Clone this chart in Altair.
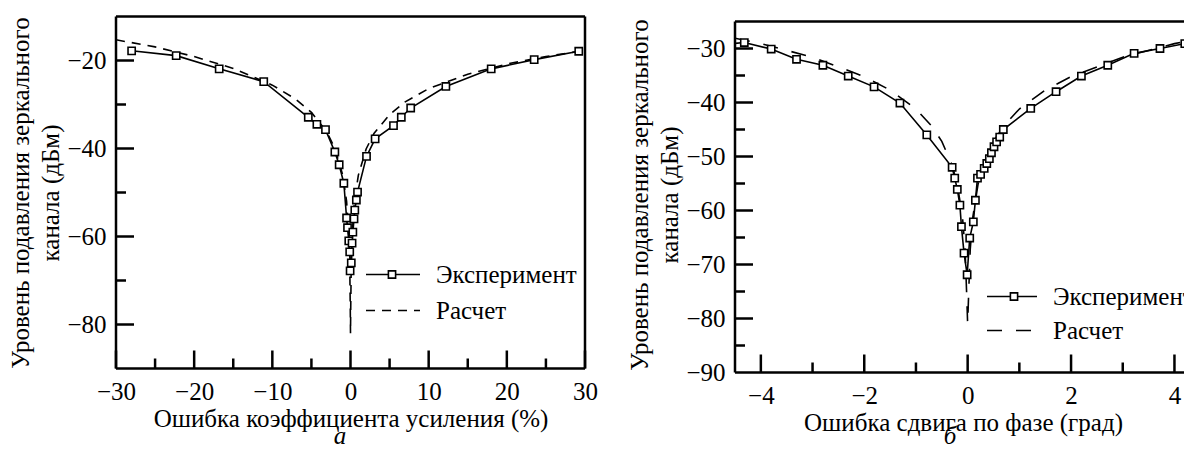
import altair as alt
import pandas as pd

# ---------------- data ----------------
series_names = ["Эксперимент", "Расчет"]

# panel а : gain error (%)
exp_a_x = [-28.0, -22.3, -16.8, -11.1, -5.4, -4.3, -3.2, -2.0, -1.45, -0.85,
           -0.5, -0.38, -0.22, -0.1, -0.05, 0.1, 0.2, 0.3, 0.45, 0.55,
           0.75, 0.9, 2.05, 3.15, 5.5, 6.5, 7.7, 12.2, 18.0, 23.5, 29.2]
exp_a_y = [-17.8, -18.9, -21.9, -24.8, -32.9, -34.5, -35.7, -40.8, -43.7, -47.9,
           -55.8, -58.0, -61.0, -63.5, -67.8, -66.0, -61.5, -59.0, -56.0, -54.0,
           -51.7, -49.9, -41.8, -37.8, -34.8, -32.9, -30.8, -25.9, -21.9, -19.8, -17.9]
calc_a_x = [-30, -25, -20, -15, -10, -7, -5, -3, -2, -1, -0.5, -0.2, -0.1, -0.03, 0,
            0.03, 0.1, 0.2, 0.5, 1, 2, 3, 5, 7, 10, 15, 20, 25, 30]
calc_a_y = [-15.3, -16.9, -19.1, -21.8, -25.6, -28.8, -31.8, -36.3, -40.0, -46.0,
            -52.0, -60.0, -66.0, -76.0, -82.0, -76.0, -66.0, -60.0, -52.0, -46.1,
            -40.1, -36.6, -32.3, -29.4, -26.4, -23.1, -20.8, -19.1, -17.7]

# panel б : phase error (deg)
exp_b_x = [-4.7, -4.32, -3.8, -3.31, -2.8, -2.31, -1.81, -1.31, -0.79, -0.3,
           -0.25, -0.2, -0.15, -0.12, -0.07, -0.01, 0.04, 0.11, 0.15, 0.19,
           0.25, 0.32, 0.37, 0.42, 0.46, 0.51, 0.56, 0.62, 0.69, 1.22,
           1.71, 2.2, 2.71, 3.22, 3.72, 4.2, 4.7]
exp_b_y = [-29.2, -28.9, -30.1, -32.0, -33.1, -35.1, -37.1, -40.1, -46.0, -52.0,
           -54.0, -56.1, -59.0, -63.0, -67.9, -71.9, -65.1, -62.1, -58.1, -54.0,
           -53.3, -52.2, -51.3, -50.4, -49.3, -48.2, -47.3, -46.4, -45.0, -41.1,
           -38.0, -35.1, -33.1, -30.9, -30.0, -29.1, -28.5]
calc_b_x = [-4.5, -4, -3, -2, -1.5, -1, -0.7, -0.5, -0.3, -0.2, -0.1, -0.05, -0.02, 0,
            0.02, 0.05, 0.1, 0.2, 0.3, 0.5, 0.7, 1, 1.5, 2, 3, 4, 4.5]
calc_b_y = [-28.1, -29.1, -31.6, -35.2, -37.7, -41.2, -44.3, -47.2, -51.6, -55.2,
            -61.2, -67.2, -75.2, -81.0, -75.2, -67.2, -61.2, -55.2, -51.6, -47.2,
            -44.3, -41.2, -37.7, -35.2, -31.6, -29.1, -28.1]

# axis ticks / labels
a_xlabels = [-30, -20, -10, 0, 10, 20, 30]
a_xminor = [-25, -15, -5, 5, 15, 25]
a_ylabels = [-80, -60, -40, -20]
a_yminor = [-70, -50, -30]
b_xlabels = [-4, -2, 0, 2, 4]
b_xminor = [-3, -1, 1, 3]
b_ylabels = [-90, -80, -70, -60, -50, -40, -30]
b_ymajor = [-80, -70, -60, -50, -40, -30]
b_yminor = [-85, -75, -65, -55, -45, -35]

ytitle = ["Уровень подавления зеркального", "канала (дБм)"]
a_xtitle = "Ошибка коэффициента усиления (%)"
b_xtitle = "Ошибка сдвига по фазе (град)"
letters = ["а", "б"]

FONT = "Liberation Serif, Times New Roman, serif"
FS = 25
LW = 2.5


def panel(ex, ey, cx, cy, xdom, ydom, W, H, ytop, xlab, xmaj, xmin, ylab, ymaj, ymin,
          xtitle, letter, letter_x, letter_y, leg, dash, right_border, clip):
    xe = alt.X("x:Q", scale=alt.Scale(domain=xdom, nice=False, zero=False),
               axis=alt.Axis(values=xlab, title=xtitle, format="d"))
    ye = alt.Y("y:Q", scale=alt.Scale(domain=ydom, nice=False, zero=False),
               axis=alt.Axis(values=ylab, title=ytitle, format="d"))
    df_e = pd.DataFrame({"x": ex, "y": ey, "i": list(range(len(ex)))})
    df_c = pd.DataFrame({"x": cx, "y": cy, "i": list(range(len(cx)))})
    one = pd.DataFrame({"k": [0]})

    layers = []
    layers.append(alt.Chart(df_c).mark_line(color="black", strokeWidth=1.6,
                                            strokeDash=dash, clip=clip)
                  .encode(x=xe, y=ye, order="i:Q"))
    layers.append(alt.Chart(df_e).mark_line(color="black", strokeWidth=1.6, clip=clip)
                  .encode(x=xe, y=ye, order="i:Q"))
    layers.append(alt.Chart(df_e).mark_point(shape="square", size=52, fill="white",
                                             fillOpacity=1, stroke="black",
                                             strokeWidth=1.6, opacity=1, clip=True)
                  .encode(x=xe, y=ye))
    # inward ticks
    layers.append(alt.Chart(pd.DataFrame({"x": xmaj})).mark_rule(color="black", strokeWidth=LW)
                  .encode(x=xe, y=alt.value(H), y2=alt.value(H - 18)))
    layers.append(alt.Chart(pd.DataFrame({"x": xmin})).mark_rule(color="black", strokeWidth=LW)
                  .encode(x=xe, y=alt.value(H), y2=alt.value(H - 10)))
    layers.append(alt.Chart(pd.DataFrame({"y": ymaj})).mark_rule(color="black", strokeWidth=LW)
                  .encode(y=ye, x=alt.value(0), x2=alt.value(18)))
    layers.append(alt.Chart(pd.DataFrame({"y": ymin})).mark_rule(color="black", strokeWidth=LW)
                  .encode(y=ye, x=alt.value(0), x2=alt.value(10)))
    # frame
    fr = alt.Chart(one).mark_rule(color="black", strokeWidth=LW)
    layers.append(fr.encode(x=alt.value(0), y=alt.value(ytop), y2=alt.value(H)))
    layers.append(fr.encode(x=alt.value(0), x2=alt.value(W), y=alt.value(ytop)))
    layers.append(fr.encode(x=alt.value(0), x2=alt.value(W), y=alt.value(H)))
    if right_border:
        layers.append(fr.encode(x=alt.value(W), y=alt.value(ytop), y2=alt.value(H)))
    # legend
    lx0, lx1, lmx, ly1, ly2, ltx = leg
    layers.append(alt.Chart(one).mark_rule(color="black", strokeWidth=1.6)
                  .encode(x=alt.value(lx0), x2=alt.value(lx1), y=alt.value(ly1)))
    layers.append(alt.Chart(one).mark_point(shape="square", size=52, fill="white",
                                            fillOpacity=1, stroke="black",
                                            strokeWidth=1.6, opacity=1)
                  .encode(x=alt.value(lmx), y=alt.value(ly1)))
    layers.append(alt.Chart(one).mark_rule(color="black", strokeWidth=1.6, strokeDash=dash)
                  .encode(x=alt.value(lx0), x2=alt.value(lx1), y=alt.value(ly2)))
    names = pd.DataFrame({"n": series_names, "r": [0, 1]})
    for r, yy in ((0, ly1), (1, ly2)):
        layers.append(alt.Chart(names).transform_filter(alt.datum.r == r)
                      .mark_text(font=FONT, fontSize=FS, align="left", baseline="middle",
                                 color="black", clip=True)
                      .encode(x=alt.value(ltx), y=alt.value(yy), text="n:N"))
    # panel letter
    layers.append(alt.Chart(pd.DataFrame({"t": [letter]}))
                  .mark_text(font=FONT, fontSize=FS, fontStyle="italic", align="center",
                             baseline="bottom", color="black")
                  .encode(x=alt.value(letter_x), y=alt.value(letter_y), text="t:N"))
    return alt.layer(*layers).properties(width=W, height=H)


WA, HA = 469, 352
WB, HB = 456, 356

left = panel(exp_a_x, exp_a_y, calc_a_x, calc_a_y, [-30, 30], [-90, -10], WA, HA, 0,
             a_xlabels, a_xlabels, a_xminor, a_ylabels, a_ylabels, a_yminor,
             a_xtitle, letters[0], 224, 432, (250, 304, 276, 258, 294, 320), [9, 7],
             True, False)
right = panel(exp_b_x, exp_b_y, calc_b_x, calc_b_y, [-4.5, 4.32], [-90, -24.074], WB, HB, 5,
              b_xlabels, b_xlabels, b_xminor, b_ylabels, b_ymajor, b_yminor,
              b_xtitle, letters[1], 215, 432, (252, 302, 279, 280, 314, 318), [15, 14],
              False, True)

chart = (alt.hconcat(left, right, spacing=29)
         .properties(padding={"left": 0, "top": 6.5, "right": -9, "bottom": 0})
         .configure_view(strokeWidth=0)
         .configure_axis(labelFont=FONT, labelFontSize=FS, labelColor="black",
                         titleFont=FONT, titleFontSize=FS, titleColor="black",
                         titleFontWeight="normal", ticks=False, tickSize=0, domain=False,
                         grid=False, labelFlush=False, labelOverlap=False,
                         labelPadding=10, titlePadding=3, titleLineHeight=30)
         .configure_axisX(labelPadding=11, titlePadding=2))

chart.save("out.html", embed_options={"renderer": "svg", "actions": False})
